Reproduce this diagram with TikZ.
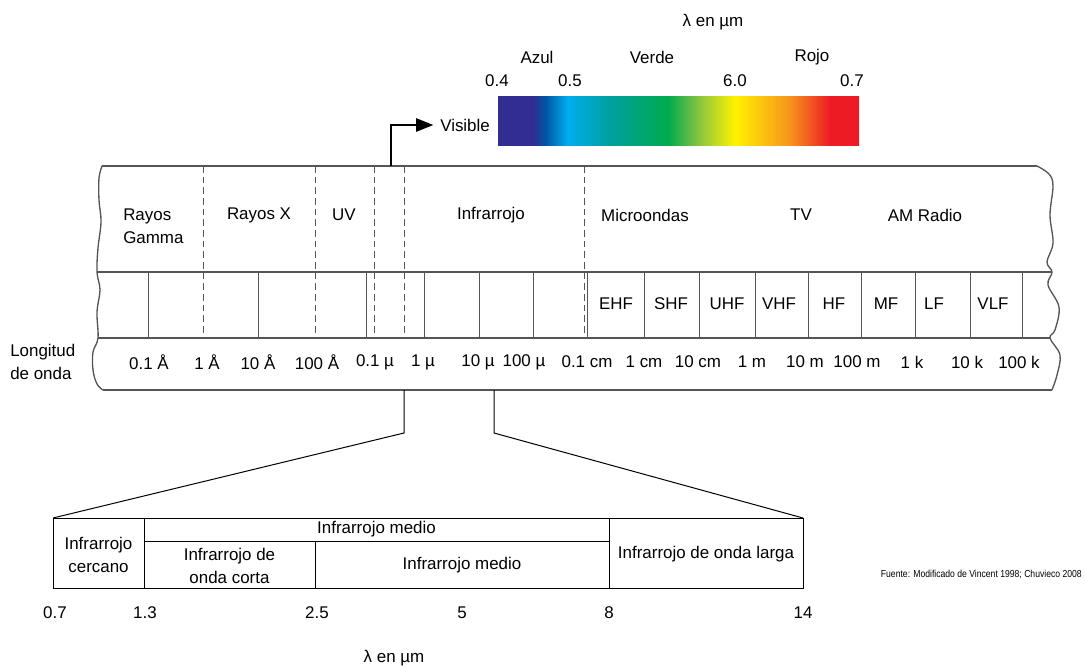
\documentclass[tikz,border=0pt]{standalone}
\usepackage{fontspec}
\setmainfont{Liberation Sans}
\newfontfamily\narrowfont{Liberation Sans}[FakeStretch=0.85]
\usetikzlibrary{arrows.meta}
\definecolor{specindigo}{RGB}{49,45,145}
\definecolor{specblue}{RGB}{0,84,164}
\definecolor{speccyan}{RGB}{0,174,239}
\definecolor{specteal}{RGB}{0,160,158}
\definecolor{specgreen}{RGB}{0,170,78}
\definecolor{speclime}{RGB}{141,198,63}
\definecolor{specyellow}{RGB}{255,242,0}
\definecolor{specorange}{RGB}{247,148,29}
\definecolor{specred}{RGB}{237,28,36}
\definecolor{edgegray}{RGB}{85,85,85}
\pgfdeclarehorizontalshading{visspec}{100bp}{color(0bp)=(specindigo); color(29.85bp)=(specindigo);
  color(31.5bp)=(specblue); color(34.7bp)=(speccyan); color(40.5bp)=(specteal);
  color(48.55bp)=(specgreen); color(53bp)=(speclime); color(57.8bp)=(specyellow);
  color(65.4bp)=(specorange); color(71bp)=(specred); color(100bp)=(specred)}

\begin{document}
\begin{tikzpicture}[
    x=0.75pt, y=-0.75pt,
    lbl/.style={font=\fontsize{12.7}{17.5}\selectfont, align=center, inner sep=0pt},
    srclbl/.style={font=\narrowfont\fontsize{7.6}{9}\selectfont, inner sep=0pt},
    edge/.style={line width=1pt, draw=edgegray},
    divider/.style={line width=0.75pt, draw=edgegray},
    dashdiv/.style={line width=0.75pt, draw=edgegray, dash pattern=on 5pt off 3pt},
    irline/.style={line width=0.75pt, draw=black},
    arrow/.style={-{Triangle[length=13pt, width=10pt]}, line width=1.4pt}
]
\useasboundingbox (0,0) rectangle (1086,668);

% Visible spectrum bar
\shade[shading=visspec] (498,96) rectangle (859,145);

\node[lbl] (lamtop) at (713,22) {λ en µm};
\node[lbl] (azul) at (537,57) {Azul};
\node[lbl] (verde) at (652,57) {Verde};
\node[lbl] (rojo) at (812,57) {Rojo};
\node[lbl] (t04) at (497,81) {0.4};
\node[lbl] (t05) at (570,81) {0.5};
\node[lbl] (t60) at (735,81) {6.0};
\node[lbl] (t07) at (852,81) {0.7};

% Spectrum band outline
\draw[edge] (102,166) -- (1037,166);
\draw[edge] (97,272) -- (1052,272);
\draw[edge] (98,338) -- (1050,338);
\draw[edge] (103,390) -- (1052,390);
\draw[edge] plot[smooth, tension=0.6] coordinates {(102,166) (99,178) (99,200) (101,222) (98,248) (97,272) (100,290) (97,312) (98,338) (93,352) (93,370) (97,384) (103,390)};
\draw[edge] plot[smooth, tension=0.6] coordinates {(1037,166) (1049,174) (1053,186) (1050,215) (1053,243) (1047,262) (1052,272) (1048,285) (1059,307) (1055,330) (1050,338) (1060,355) (1057,375) (1052,390)};

% Region boundaries
\draw[dashdiv] (203,166) -- (203,338);
\draw[dashdiv] (315,166) -- (315,338);
\draw[dashdiv] (374,166) -- (374,338);
\draw[dashdiv] (404,166) -- (404,338);
\draw[dashdiv] (584,166) -- (584,338);

% Decade cells
\draw[divider] (148,272) -- (148,338) (258,272) -- (258,338) (366,272) -- (366,338)
    (424,272) -- (424,338) (479,272) -- (479,338) (533,272) -- (533,338)
    (587,272) -- (587,338) (644,272) -- (644,338) (699,272) -- (699,338)
    (755,272) -- (755,338) (808,272) -- (808,338) (861,272) -- (861,338)
    (915,272) -- (915,338) (970,272) -- (970,338) (1022,272) -- (1022,338);

% Region names
\node[lbl, anchor=west, align=left] (gamma) at (123,226) {Rayos\\Gamma};
\node[lbl] (xray) at (259,215) {Rayos X};
\node[lbl] (uv) at (344,215) {UV};
\node[lbl] (ir) at (491,215) {Infrarrojo};
\node[lbl] (micro) at (645,215) {Microondas};
\node[lbl] (tv) at (801,215) {TV};
\node[lbl] (amradio) at (925,215) {AM Radio};

% Radio bands
\node[lbl] (ehf) at (616,304) {EHF};
\node[lbl] (shf) at (671,304) {SHF};
\node[lbl] (uhf) at (727,304) {UHF};
\node[lbl] (vhf) at (779,304) {VHF};
\node[lbl] (hf) at (834,304) {HF};
\node[lbl] (mf) at (886,304) {MF};
\node[lbl] (lf) at (934,304) {LF};
\node[lbl] (vlf) at (993,304) {VLF};

% Wavelengths
\node[lbl, anchor=west, align=left] (longitud) at (10,362) {Longitud\\de onda};
\node[lbl] (w1) at (149,362) {0.1 Å};
\node[lbl] (w2) at (207,362) {1 Å};
\node[lbl] (w3) at (258,362) {10 Å};
\node[lbl] (w4) at (317,362) {100 Å};
\node[lbl] (w5) at (375,362) {0.1 µ};
\node[lbl] (w6) at (423,362) {1 µ};
\node[lbl] (w7) at (478,362) {10 µ};
\node[lbl] (w8) at (524,362) {100 µ};
\node[lbl] (w9) at (587,362) {0.1 cm};
\node[lbl] (w10) at (644,362) {1 cm};
\node[lbl] (w11) at (698,362) {10 cm};
\node[lbl] (w12) at (752,362) {1 m};
\node[lbl] (w13) at (805,362) {10 m};
\node[lbl] (w14) at (857,362) {100 m};
\node[lbl] (w15) at (912,362) {1 k};
\node[lbl] (w16) at (967,362) {10 k};
\node[lbl] (w17) at (1019,362) {100 k};

% Visible pointer
\coordinate (vtop) at (391,166);
\node[lbl, anchor=west] (vis) at (440,125) {Visible};
\draw[arrow, shorten >=5pt] (vtop) |- (vis.west);

% Infrared detail box
\coordinate (ir-nw) at (53,518);
\coordinate (ir-ne) at (803,518);
\coordinate (zl) at (404,390);
\coordinate (zr) at (494,390);
\coordinate (zlk) at (404,433);
\coordinate (zrk) at (494,433);
\draw[irline] (zl) -- (zlk) -- (ir-nw);
\draw[irline] (zr) -- (zrk) -- (ir-ne);
\draw[irline] (ir-nw) rectangle (803,588);
\draw[irline] (144,518) -- (144,588) (609,518) -- (609,588) (144,541) -- (609,541) (315,541) -- (315,588);

\node[lbl] (nir) at (98.5,555) {Infrarrojo\\cercano};
\node[lbl] (midtop) at (376.5,529) {Infrarrojo medio};
\node[lbl] (swir) at (229.5,566) {Infrarrojo de\\onda corta};
\node[lbl] (mwir) at (462,565) {Infrarrojo medio};
\node[lbl] (lwir) at (706,554) {Infrarrojo de onda larga};

\node[lbl] (b07) at (55,613) {0.7};
\node[lbl] (b13) at (145,613) {1.3};
\node[lbl] (b25) at (317,613) {2.5};
\node[lbl] (b5) at (462,613) {5};
\node[lbl] (b8) at (609,613) {8};
\node[lbl] (b14) at (803,613) {14};
\node[lbl] (lambot) at (394,658) {λ en µm};

% Source
\node[srclbl, anchor=east] (src) at (1082,574) {Fuente: Modificado de Vincent 1998; Chuvieco 2008};

\end{tikzpicture}
\end{document}
